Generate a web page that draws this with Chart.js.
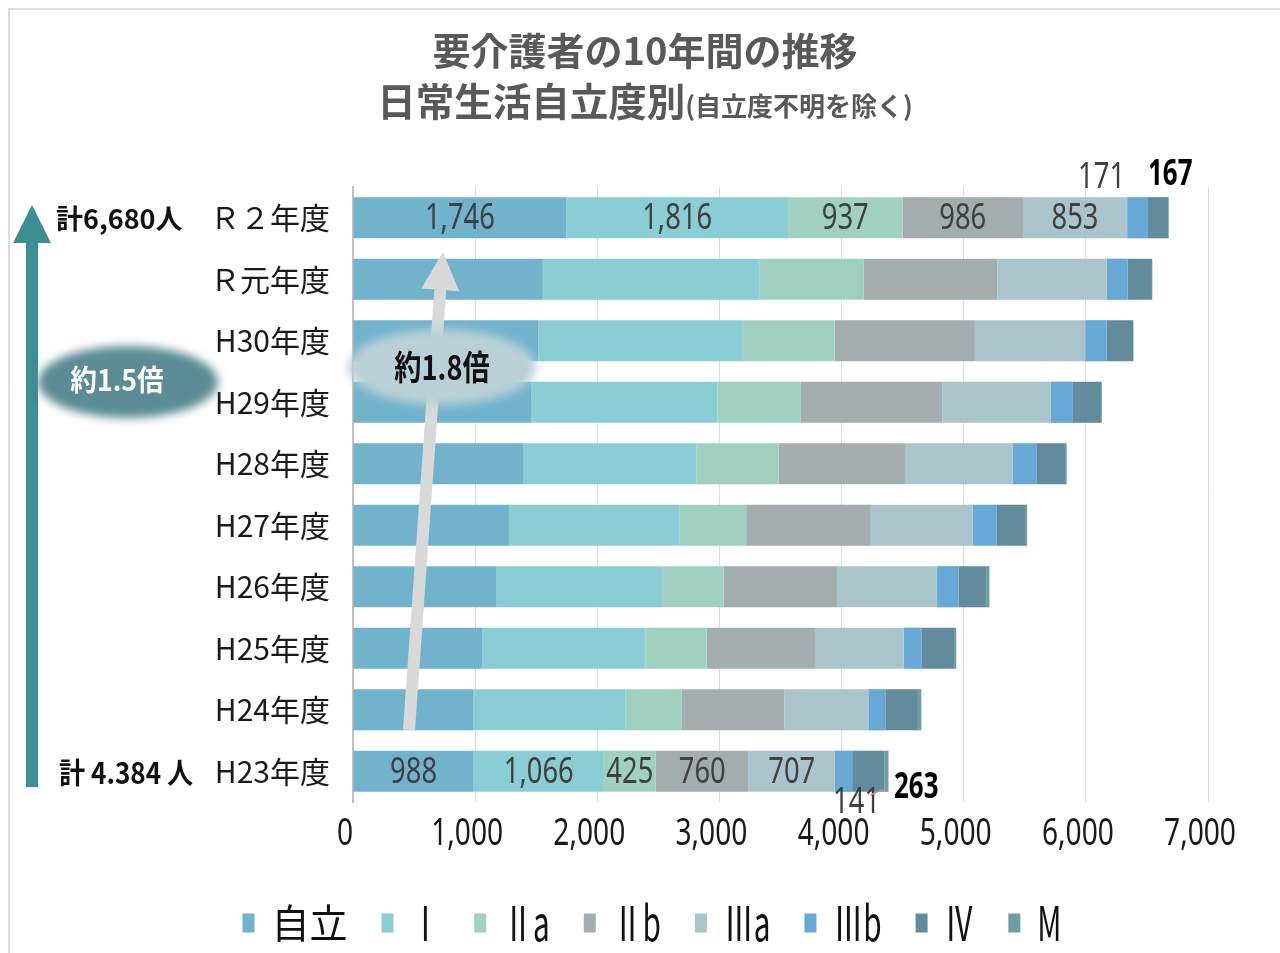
<!DOCTYPE html>
<html lang="ja">
<head>
<meta charset="utf-8">
<title>要介護者の10年間の推移</title>
<script src="https://cdn.jsdelivr.net/npm/chart.js@4"></script>
<style>
  html, body { margin: 0; padding: 0; background: #fff; }
  #wrap { position: relative; width: 1280px; height: 953px; overflow: hidden; }
  #frame { position: absolute; left: 8px; top: 8px; width: 1300px; height: 980px;
           border: 2px solid #dcdcdc; box-sizing: border-box; }
  .title { position: absolute; left: 0; width: 1290px; text-align: center; color: #595959;
           font-family: "Noto Sans CJK JP", sans-serif; font-weight: bold; white-space: nowrap; }
  #t1 { top: 28px; font-size: 38px; line-height: 42px; }
  #t2 { top: 78px; font-size: 38.5px; line-height: 42px; }
  #t2 small { font-size: 26px; font-weight: bold; }
  canvas { position: absolute; left: 0; top: 0; }
</style>
</head>
<body>
<div id="wrap">
  <div id="frame"></div>
  <canvas id="chart" width="1280" height="953"></canvas>
  <div class="title" id="t1">要介護者の10年間の推移</div>
  <div class="title" id="t2">日常生活自立度別<small>(自立度不明を除く)</small></div>
</div>
<script>
// categories (top to bottom)
const yearLabels = ['Ｒ２年度', 'Ｒ元年度', 'H30年度', 'H29年度', 'H28年度',
                    'H27年度', 'H26年度', 'H25年度', 'H24年度', 'H23年度'];

// series values per year, same order as yearLabels
const jiritsu = [1746, 1554, 1517, 1462, 1392, 1277, 1176, 1060, 987, 988];
const rank1   = [1816, 1771, 1669, 1522, 1421, 1398, 1360, 1333, 1245, 1066];
const rank2a  = [937, 857, 757, 682, 673, 544, 498, 503, 461, 425];
const rank2b  = [986, 1094, 1148, 1158, 1033, 1014, 928, 886, 839, 760];
const rank3a  = [853, 894, 904, 890, 881, 840, 820, 728, 687, 707];
const rank3b  = [171, 171, 175, 180, 199, 198, 176, 144, 139, 141];
const rank4   = [167, 200, 217, 235, 230, 231, 230, 267, 267, 263];
const rankM   = [4, 3, 3, 3, 14, 18, 23, 18, 28, 34];

const levelNames  = ['自立', 'Ⅰ', 'Ⅱa', 'Ⅱb', 'Ⅲa', 'Ⅲb', 'Ⅳ', 'M'];
const levelColors = ['#71b3cd', '#8acdd4', '#9fd0c0', '#a3adae', '#a9c5cb', '#68a8d7', '#628b9b', '#6e9ea3'];
const levelValues = [jiritsu, rank1, rank2a, rank2b, rank3a, rank3b, rank4, rankM];

// x axis ticks
const xTickValues = [0, 1000, 2000, 3000, 4000, 5000, 6000, 7000];
const xTickLabels = ['0', '1,000', '2,000', '3,000', '4,000', '5,000', '6,000', '7,000'];

// annotation texts
const totalTop = '計6,680人';
const totalBottom = '計 4.384 人';
const ratioLeft = '約1.5倍';
const ratioMid = '約1.8倍';

const latinFont = '"Noto Sans", "Noto Sans CJK JP", sans-serif';
const jpFont = '"Noto Sans CJK JP", sans-serif';

// no condensed font is installed, so squeeze text horizontally
function narrowText(ctx, txt, x, y, font, sx, align) {
    ctx.save();
    ctx.font = font;
    ctx.textAlign = align || 'center';
    ctx.textBaseline = 'middle';
    ctx.translate(x, y);
    ctx.scale(sx, 1);
    ctx.fillText(txt, 0, 0);
    ctx.restore();
}

function narrowWidth(ctx, txt, font, sx) {
    ctx.save();
    ctx.font = font;
    const w = ctx.measureText(txt).width * sx;
    ctx.restore();
    return w;
}

// value labels on the first (R2) and last (H23) rows
const valueLabels = {
    id: 'valueLabels',
    afterDatasetsDraw(chart) {
        const ctx = chart.ctx;
        const rows = [0, yearLabels.length - 1];
        const plain = '36px ' + latinFont;
        const bold = 'bold 36px ' + latinFont;
        rows.forEach(row => {
            chart.data.datasets.forEach((ds, i) => {
                const bar = chart.getDatasetMeta(i).data[row];
                const v = ds.data[row];
                const cx = (bar.x + bar.base) / 2;
                const txt = v.toLocaleString('en-US');
                if (i < 5) {
                    ctx.fillStyle = '#404040';
                    narrowText(ctx, txt, cx, bar.y + 1, plain, 0.76);
                } else if (i === 5) {
                    ctx.fillStyle = '#404040';
                    if (row === 0) {
                        narrowText(ctx, txt, cx - 36, bar.y - 40, plain, 0.76);
                    } else {
                        narrowText(ctx, txt, cx + 13, bar.y + 31, plain, 0.76);
                        // leader line
                        ctx.save();
                        ctx.strokeStyle = '#9a9a9a';
                        ctx.lineWidth = 1.5;
                        ctx.beginPath();
                        ctx.moveTo(cx + 27, bar.y + 24);
                        ctx.lineTo(cx + 36, bar.y + 19);
                        ctx.lineTo(cx + 43, bar.y + 19);
                        ctx.stroke();
                        ctx.restore();
                    }
                } else if (i === 6) {
                    ctx.fillStyle = '#000';
                    if (row === 0) {
                        narrowText(ctx, txt, cx + 12, bar.y - 43, bold, 0.72);
                    } else {
                        narrowText(ctx, txt, cx + 48, bar.y + 16, bold, 0.72);
                    }
                }
            });
        });
    }
};

// x tick labels, drawn narrow at the scale's own tick positions
const xTicks = {
    id: 'xTicks',
    afterDraw(chart) {
        const ctx = chart.ctx;
        const xs = chart.scales.x;
        ctx.fillStyle = '#1a1a1a';
        xTickValues.forEach((v, i) => {
            narrowText(ctx, xTickLabels[i], xs.getPixelForValue(v) - 8, chart.chartArea.bottom + 32,
                       '38px ' + latinFont, 0.74);
        });
    }
};

// legend drawn from the datasets' own labels and colours
const legendRow = {
    id: 'legendRow',
    afterDraw(chart) {
        const ctx = chart.ctx;
        const items = chart.data.datasets.map(ds => {
            const kanji = /[\u3040-\u9fff]/.test(ds.label);
            const font = kanji ? '40px ' + jpFont : '48px ' + jpFont;
            const sx = kanji ? 0.95 : 0.62;
            return { text: ds.label, color: ds.backgroundColor, font, sx, w: narrowWidth(ctx, ds.label, font, sx) };
        });
        const boxW = 12, boxH = 19, textGap = 17, itemGap = 34, cy = 923;
        const total = items.reduce((s, it) => s + boxW + textGap + it.w, 0) + itemGap * (items.length - 1);
        let x = 652 - total / 2;
        items.forEach(it => {
            ctx.fillStyle = it.color;
            ctx.fillRect(x, cy - boxH / 2, boxW, boxH);
            ctx.fillStyle = '#111111';
            narrowText(ctx, it.text, x + boxW + textGap, cy, it.font, it.sx, 'left');
            x += boxW + textGap + it.w + itemGap;
        });
    }
};

// arrows, ellipses and totals
const annotations = {
    id: 'annotations',
    afterDraw(chart) {
        const ctx = chart.ctx;
        ctx.save();

        // teal arrow on the left
        ctx.fillStyle = '#3c8e95';
        ctx.fillRect(26, 240, 12, 547);
        ctx.beginPath();
        ctx.moveTo(32, 205);
        ctx.lineTo(13, 243);
        ctx.lineTo(51, 243);
        ctx.closePath();
        ctx.fill();

        // gray arrow over the bars
        const x0 = 409, y0 = 730, x1 = 443, y1 = 252;
        const len = Math.hypot(x1 - x0, y1 - y0);
        const ux = (x1 - x0) / len, uy = (y1 - y0) / len;
        const headLen = 38, headHalf = 19;
        const bx = x1 - ux * headLen, by = y1 - uy * headLen;
        ctx.strokeStyle = '#d9d9d9';
        ctx.fillStyle = '#d9d9d9';
        ctx.lineWidth = 12;
        ctx.beginPath();
        ctx.moveTo(x0, y0);
        ctx.lineTo(bx, by);
        ctx.stroke();
        ctx.beginPath();
        ctx.moveTo(x1, y1);
        ctx.lineTo(bx - uy * headHalf, by + ux * headHalf);
        ctx.lineTo(bx + uy * headHalf, by - ux * headHalf);
        ctx.closePath();
        ctx.fill();

        // soft ellipses
        ctx.filter = 'blur(5px)';
        ctx.fillStyle = '#5b8b94';
        ctx.beginPath();
        ctx.ellipse(128, 382, 90, 36, 0, 0, Math.PI * 2);
        ctx.fill();
        ctx.fillStyle = '#b9d0d6';
        ctx.beginPath();
        ctx.ellipse(442, 367, 94, 38, 0, 0, Math.PI * 2);
        ctx.fill();
        ctx.filter = 'none';
        ctx.restore();

        ctx.fillStyle = '#ffffff';
        narrowText(ctx, ratioLeft, 117, 380, 'bold 29px ' + jpFont, 0.92);
        ctx.fillStyle = '#111111';
        narrowText(ctx, ratioMid, 442, 367, 'bold 34px ' + jpFont, 0.8);

        // totals
        ctx.fillStyle = '#111111';
        narrowText(ctx, totalTop, 56, 219, 'bold 27px ' + jpFont, 1, 'left');
        narrowText(ctx, totalBottom, 59, 773, 'bold 29px ' + jpFont, 0.9, 'left');
    }
};

const datasets = levelNames.map((name, i) => ({
    label: name,
    data: levelValues[i],
    backgroundColor: levelColors[i],
    borderWidth: 0,
    barPercentage: 0.67,
    categoryPercentage: 1.0
}));

new Chart(document.getElementById('chart'), {
    type: 'bar',
    data: { labels: yearLabels, datasets: datasets },
    options: {
        indexAxis: 'y',
        responsive: false,
        animation: false,
        devicePixelRatio: 1,
        layout: { padding: { top: 187, left: 0, right: 72, bottom: 75 } },
        plugins: {
            title: { display: false },
            tooltip: { enabled: false },
            legend: { display: false }
        },
        scales: {
            x: {
                stacked: true,
                min: 0,
                max: 7000,
                ticks: { stepSize: 1000, display: false },
                grid: { color: '#dcdcdc', lineWidth: 1, drawTicks: false },
                border: { display: false },
                afterFit: s => { s.height = 76; }
            },
            y: {
                stacked: true,
                ticks: {
                    padding: 23,
                    color: '#1a1a1a',
                    font: { family: jpFont, size: 30 }
                },
                grid: { display: false, drawTicks: false },
                border: { display: true, color: '#c0c0c0', width: 2 },
                afterFit: s => { s.width = 353; }
            }
        }
    },
    plugins: [valueLabels, xTicks, legendRow, annotations]
});
</script>
</body>
</html>
